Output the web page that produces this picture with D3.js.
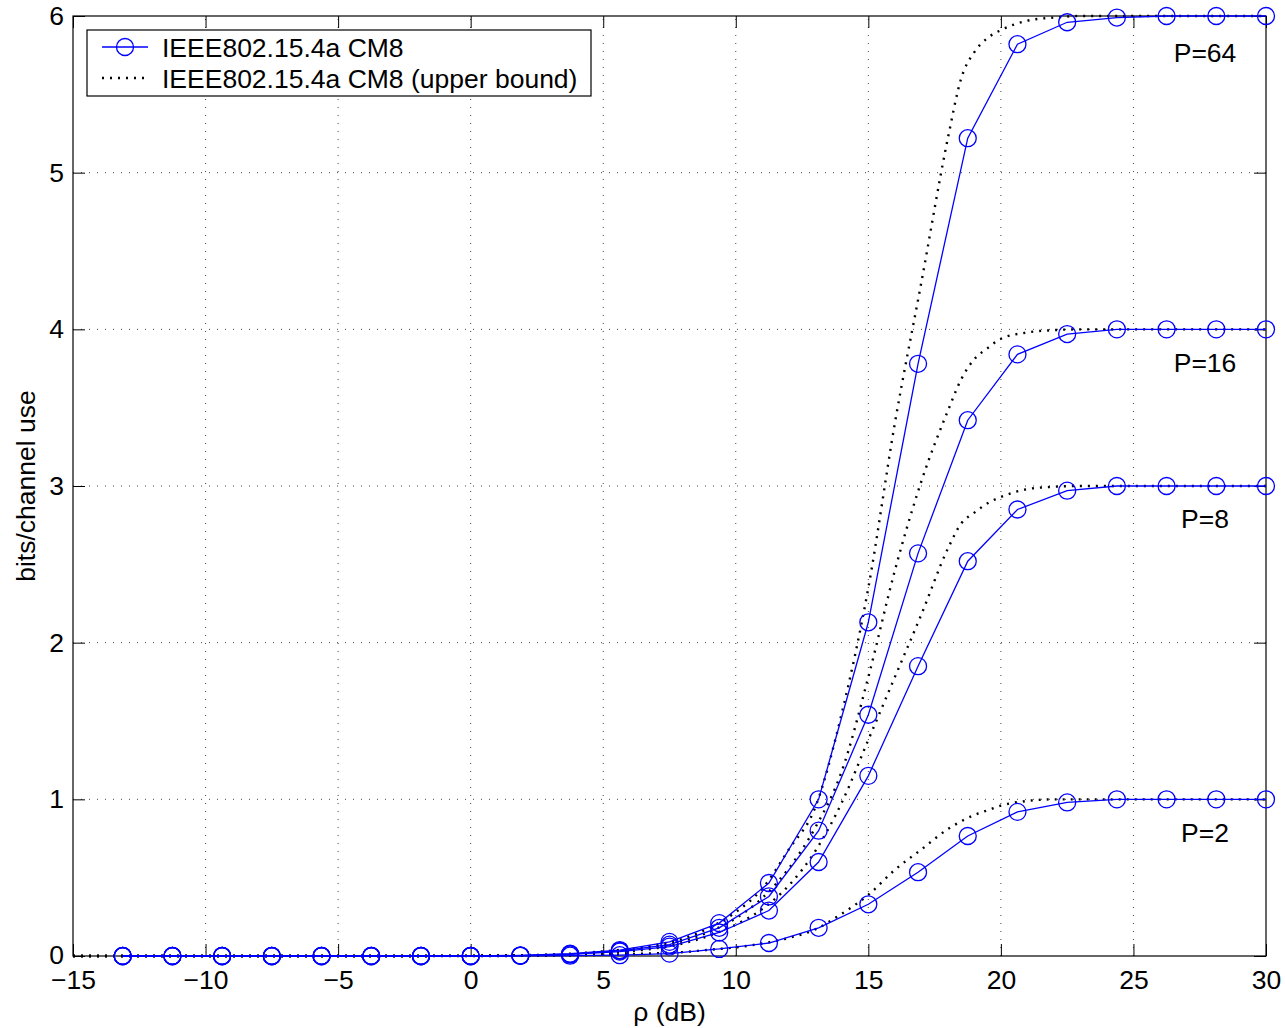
<!DOCTYPE html>
<html>
<head>
<meta charset="utf-8">
<script src="https://cdn.jsdelivr.net/npm/d3@7"></script>
<style>
  body { margin: 0; background: #fff; }
  svg { display: block; font-family: "Liberation Sans", Arial, sans-serif; }
</style>
</head>
<body>
<div id="app"></div>
<script>
// rho (dB) where the simulated points sit
const rhoPts = [-13.125, -11.25, -9.375, -7.5, -5.625, -3.75, -1.875, 0,
  1.875, 3.75, 5.625, 7.5, 9.375, 11.25, 13.125, 15, 16.875, 18.75,
  20.625, 22.5, 24.375, 26.25, 28.125, 30];

const capP2  = [0, 0, 0, 0, 0, 0, 0, 0, 0.001, 0.002, 0.005, 0.015, 0.045, 0.083, 0.18, 0.33, 0.535, 0.766, 0.92, 0.98, 1, 1, 1, 1];
const capP8  = [0, 0, 0, 0, 0, 0, 0, 0, 0.002, 0.01, 0.028, 0.06, 0.15, 0.29, 0.6, 1.15, 1.85, 2.52, 2.85, 2.97, 3, 3, 3, 3];
const capP16 = [0, 0, 0, 0, 0, 0, 0, 0, 0.003, 0.012, 0.033, 0.072, 0.18, 0.38, 0.8, 1.54, 2.57, 3.42, 3.84, 3.97, 4, 4, 4, 4];
const capP64 = [0, 0, 0, 0, 0, 0, 0, 0, 0.004, 0.015, 0.038, 0.09, 0.21, 0.466, 1.0, 2.13, 3.78, 5.22, 5.82, 5.96, 5.99, 6, 6, 6];

// upper bound curves
const rhoBound = [-15, -5, 0, 2, 4, 5, 6, 7, 8, 9, 10, 11, 12, 13, 14, 15, 16, 17, 18, 18.5, 19, 19.5, 20, 21, 22, 23, 25, 30];
const boundP2  = [0, 0, 0, 0.001, 0.004, 0.008, 0.012, 0.018, 0.025, 0.04, 0.055, 0.08, 0.115, 0.17, 0.27, 0.39, 0.55, 0.68, 0.81, 0.86, 0.9, 0.93, 0.96, 0.99, 1, 1, 1, 1];
const boundP8  = [0, 0, 0.001, 0.003, 0.01, 0.02, 0.03, 0.05, 0.08, 0.13, 0.2, 0.3, 0.45, 0.67, 0.98, 1.38, 1.78, 2.18, 2.6, 2.76, 2.83, 2.89, 2.93, 2.98, 2.995, 3, 3, 3];
const boundP16 = [0, 0, 0.001, 0.004, 0.013, 0.025, 0.038, 0.06, 0.095, 0.155, 0.24, 0.37, 0.56, 0.82, 1.18, 1.78, 2.46, 3.03, 3.48, 3.68, 3.81, 3.88, 3.94, 3.98, 3.995, 4, 4, 4];
const boundP64 = [0, 0, 0.001, 0.005, 0.017, 0.03, 0.045, 0.07, 0.11, 0.18, 0.28, 0.43, 0.68, 0.95, 1.55, 2.35, 3.4, 4.3, 5.22, 5.6, 5.77, 5.86, 5.91, 5.97, 5.99, 6, 6, 6];

const curveLabels = ["P=64", "P=16", "P=8", "P=2"];
const curveLabelY = [5.77, 3.79, 2.79, 0.79];
const labelRho = 27.7;

const xTicks = [-15, -10, -5, 0, 5, 10, 15, 20, 25, 30];
const yTicks = [0, 1, 2, 3, 4, 5, 6];
const legendLabels = ["IEEE802.15.4a CM8", "IEEE802.15.4a CM8 (upper bound)"];

let width = 1285, height = 1028;
let margin = { left: 73, right: 19, top: 16, bottom: 72 };

let svg = d3.select("#app").append("svg")
  .attr("width", width).attr("height", height);

let x = d3.scaleLinear().domain([-15, 30]).range([margin.left, width - margin.right]);
let y = d3.scaleLinear().domain([0, 6]).range([height - margin.bottom, margin.top]);

const blue = "#0000ff";
const fs = 26.5;

// grid
svg.append("g")
  .selectAll("line")
  .data(xTicks.slice(1, -1))
  .enter().append("line")
  .attr("x1", d => x(d)).attr("x2", d => x(d))
  .attr("y1", y(0)).attr("y2", y(6))
  .attr("stroke", "#444").attr("stroke-width", 1)
  .attr("stroke-dasharray", "1,7");

svg.append("g")
  .selectAll("line")
  .data(yTicks.slice(1, -1))
  .enter().append("line")
  .attr("x1", x(-15)).attr("x2", x(30))
  .attr("y1", d => y(d)).attr("y2", d => y(d))
  .attr("stroke", "#444").attr("stroke-width", 1)
  .attr("stroke-dasharray", "1,7");

// axes with inward ticks on all four sides
const tick = 12;
svg.append("g")
  .attr("transform", `translate(0,${y(0)})`)
  .call(d3.axisBottom(x).tickValues(xTicks).tickSize(-tick).tickPadding(14)
    .tickFormat(d => d < 0 ? "\u2212" + Math.abs(d) : d))
  .call(g => g.select(".domain").remove());

svg.append("g")
  .attr("transform", `translate(0,${y(6)})`)
  .call(d3.axisTop(x).tickValues(xTicks).tickSize(-tick).tickFormat(""))
  .call(g => g.select(".domain").remove());

svg.append("g")
  .attr("transform", `translate(${x(-15)},0)`)
  .call(d3.axisLeft(y).tickValues(yTicks).tickSize(-tick).tickPadding(9)
    .tickFormat(d3.format("d")))
  .call(g => g.select(".domain").remove());

svg.append("g")
  .attr("transform", `translate(${x(30)},0)`)
  .call(d3.axisRight(y).tickValues(yTicks).tickSize(-tick).tickFormat(""))
  .call(g => g.select(".domain").remove());

svg.selectAll(".tick line").attr("stroke", "#000").attr("stroke-width", 1);
svg.selectAll(".tick text").attr("font-size", fs).attr("fill", "#000")
  .attr("font-family", "Liberation Sans, Arial, sans-serif");

// nudge the y "0" up a touch so it clears the -15 below it
svg.selectAll(".tick text").filter(function(d) { return d === 0 && this.getAttribute("x") !== null && +this.getAttribute("x") < 0; })
  .attr("dy", "0.28em");

svg.append("rect")
  .attr("x", x(-15)).attr("y", y(6))
  .attr("width", x(30) - x(-15)).attr("height", y(0) - y(6))
  .attr("fill", "none").attr("stroke", "#000").attr("stroke-width", 1.2);

// curves
let line = d3.line().x(d => x(d[0])).y(d => y(d[1]));
let smooth = d3.line().x(d => x(d[0])).y(d => y(d[1])).curve(d3.curveMonotoneX);

const bounds = [boundP64, boundP16, boundP8, boundP2];
const caps = [capP64, capP16, capP8, capP2];

svg.append("g")
  .selectAll("path")
  .data(bounds)
  .enter().append("path")
  .attr("d", b => smooth(rhoBound.map((r, i) => [r, b[i]])))
  .attr("fill", "none").attr("stroke", "#000").attr("stroke-width", 2.4)
  .attr("stroke-dasharray", "2,6");

let capG = svg.append("g");
caps.forEach(c => {
  let pts = rhoPts.map((r, i) => [r, c[i]]);
  capG.append("path")
    .attr("d", line(pts))
    .attr("fill", "none").attr("stroke", blue).attr("stroke-width", 1.3);
  capG.selectAll(null)
    .data(pts)
    .enter().append("circle")
    .attr("cx", d => x(d[0])).attr("cy", d => y(d[1]))
    .attr("r", 8.5)
    .attr("fill", "none").attr("stroke", blue).attr("stroke-width", 1.3);
});

// curve labels
svg.append("g")
  .selectAll("text")
  .data(curveLabels)
  .enter().append("text")
  .attr("x", x(labelRho)).attr("y", (d, i) => y(curveLabelY[i]))
  .attr("dy", "0.36em")
  .attr("text-anchor", "middle")
  .attr("font-size", fs)
  .text(d => d);

// axis labels
svg.append("text")
  .attr("x", x(7.5)).attr("y", 1021)
  .attr("text-anchor", "middle").attr("font-size", fs)
  .text("\u03c1 (dB)");

svg.append("text")
  .attr("transform", `translate(35,${y(3)}) rotate(-90)`)
  .attr("text-anchor", "middle").attr("font-size", fs)
  .text("bits/channel use");

// legend
let legend = svg.append("g").attr("transform", "translate(87,30)");
legend.append("rect")
  .attr("width", 504).attr("height", 66)
  .attr("fill", "#fff").attr("stroke", "#000").attr("stroke-width", 1.2);

legend.append("line")
  .attr("x1", 15).attr("x2", 61).attr("y1", 17).attr("y2", 17)
  .attr("stroke", blue).attr("stroke-width", 1.3);
legend.append("circle")
  .attr("cx", 38).attr("cy", 17).attr("r", 8.5)
  .attr("fill", "none").attr("stroke", blue).attr("stroke-width", 1.3);
legend.append("line")
  .attr("x1", 15).attr("x2", 61).attr("y1", 48).attr("y2", 48)
  .attr("stroke", "#000").attr("stroke-width", 2.4)
  .attr("stroke-dasharray", "2,6");

legend.selectAll("text")
  .data(legendLabels)
  .enter().append("text")
  .attr("x", 75).attr("y", (d, i) => 17 + i * 31)
  .attr("dy", "0.36em").attr("font-size", fs)
  .text(d => d);
</script>
</body>
</html>
